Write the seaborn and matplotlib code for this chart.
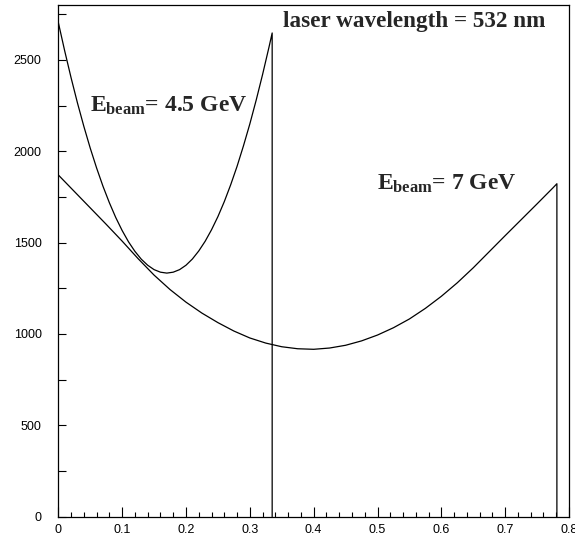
import matplotlib
matplotlib.use("Agg")
import matplotlib.pyplot as plt
import seaborn as sns
import pandas as pd
from matplotlib.ticker import MultipleLocator

# ---- data ----
x_45 = [0.000, 0.010, 0.020, 0.030, 0.040, 0.050, 0.060, 0.070, 0.080, 0.090,
        0.100, 0.110, 0.120, 0.130, 0.140, 0.150, 0.160, 0.170, 0.180, 0.190,
        0.200, 0.210, 0.220, 0.230, 0.240, 0.250, 0.260, 0.270, 0.280, 0.290,
        0.300, 0.310, 0.320, 0.330, 0.335, 0.335]
y_45 = [2705, 2549, 2402, 2264, 2136, 2017, 1908, 1808, 1718, 1637,
        1566, 1504, 1452, 1409, 1376, 1352, 1338, 1333, 1338, 1352,
        1376, 1410, 1454, 1507, 1570, 1642, 1724, 1816, 1917, 2029,
        2149, 2280, 2420, 2569, 2647, 0]

x_7 = [0.000, 0.025, 0.050, 0.075, 0.100, 0.125, 0.150, 0.175, 0.200, 0.225,
       0.250, 0.275, 0.300, 0.325, 0.350, 0.375, 0.400, 0.425, 0.450, 0.475,
       0.500, 0.525, 0.550, 0.575, 0.600, 0.625, 0.650, 0.675, 0.700, 0.725,
       0.750, 0.775, 0.781, 0.781]
y_7 = [1870, 1780, 1690, 1600, 1508, 1412, 1322, 1243, 1174, 1114,
       1062, 1016, 978, 950, 930, 919, 916, 923, 938, 962,
       994, 1034, 1082, 1140, 1206, 1280, 1362, 1450, 1538, 1625,
       1712, 1800, 1822, 0]

series_labels = ["4.5 GeV", "7 GeV"]
x_ticks = [0, 0.1, 0.2, 0.3, 0.4, 0.5, 0.6, 0.7, 0.8]
y_ticks = [0, 500, 1000, 1500, 2000, 2500]
title_text = "laser wavelength = 532 nm"

df = pd.concat([
    pd.DataFrame({"x": x_45, "y": y_45, "beam": series_labels[0]}),
    pd.DataFrame({"x": x_7, "y": y_7, "beam": series_labels[1]}),
], ignore_index=True)

sns.set_theme(style="ticks")
plt.rcParams["font.family"] = ["Liberation Sans", "DejaVu Sans"]
plt.rcParams["mathtext.fontset"] = "custom"
plt.rcParams["mathtext.rm"] = "Liberation Serif:bold"
plt.rcParams["mathtext.it"] = "Liberation Serif:bold"
plt.rcParams["mathtext.bf"] = "Liberation Serif:bold"

fig = plt.figure(figsize=(5.75, 5.38), dpi=100)
ax = fig.add_axes([0.1014, 0.0396, 0.8882, 0.9511])

sns.lineplot(data=df, x="x", y="y", units="beam", estimator=None, sort=False,
             color="black", linewidth=0.9, ax=ax, legend=False)

ax.set_xlim(0, 0.8)
ax.set_ylim(0, 2800)
ax.set_xticks(x_ticks)
ax.set_xticklabels([("%g" % t) for t in x_ticks])
ax.set_yticks(y_ticks)
ax.set_yticklabels([str(t) for t in y_ticks])
ax.xaxis.set_minor_locator(MultipleLocator(0.02))
ax.yaxis.set_minor_locator(MultipleLocator(250))
ax.set_xlabel("")
ax.set_ylabel("")

ax.tick_params(axis="both", which="both", direction="in", top=False, right=False,
               colors="black", width=0.8, labelsize=9)
ax.tick_params(axis="x", which="major", length=7, pad=5)
ax.tick_params(axis="x", which="minor", length=3.6)
ax.tick_params(axis="y", which="major", length=6, pad=12)
ax.tick_params(axis="y", which="minor", length=6)
for s in ax.spines.values():
    s.set_visible(True)
    s.set_color("black")
    s.set_linewidth(0.9)

serif = ["Liberation Serif", "DejaVu Serif"]
ax.text(0.352, 2680, title_text, fontsize=16.7, fontweight="bold", family=serif,
        ha="left", va="baseline")
ax.text(0.050, 2215, r"$E_{beam}$" + "= 4.5 GeV", fontsize=17, fontweight="bold",
        family=serif, ha="left", va="baseline")
ax.text(0.499, 1789, r"$E_{beam}$" + "= 7 GeV", fontsize=17, fontweight="bold",
        family=serif, ha="left", va="baseline")

fig.savefig("out.png", dpi=100)
